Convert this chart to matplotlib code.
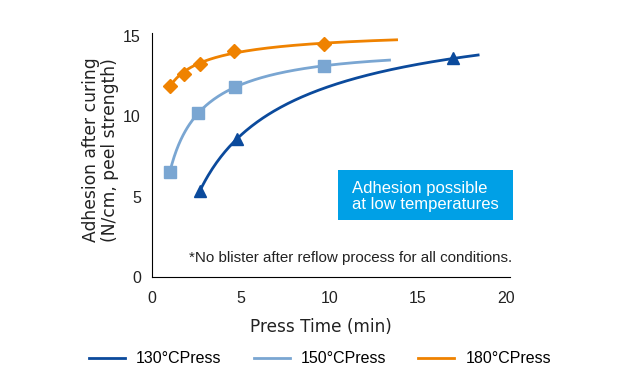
import numpy as np
import matplotlib.pyplot as plt
from matplotlib.patches import Rectangle

plt.rcParams['font.family'] = ['Liberation Sans', 'DejaVu Sans']

# press time (min) and peel strength (N/cm)
t130 = [2.7, 4.8, 17.0]
p130 = [5.35, 8.6, 13.6]
t150 = [1.0, 2.6, 4.7, 9.7]
p150 = [6.5, 10.2, 11.8, 13.15]
t180 = [1.0, 1.8, 2.7, 4.6, 9.7]
p180 = [11.9, 12.65, 13.27, 14.08, 14.5]
# where each trend line stops
tend = {"130": 18.4, "150": 13.4, "180": 13.8}

labels = ["130°CPress", "150°CPress", "180°CPress"]
colors = ["#0B4A9C", "#7AA6D2", "#EF8200"]
markers = ["^", "s", "D"]

fig = plt.figure(figsize=(6.4, 3.9), dpi=100)
ax = fig.add_axes([0.2375, 0.29, 0.5594, 0.626])

series = [(t130, p130, "130"), (t150, p150, "150"), (t180, p180, "180")]
for (t, p, key), lab, c, m in zip(series, labels, colors, markers):
    t = np.array(t)
    p = np.array(p)
    # log-quadratic trend line through the measured points
    coef = np.polyfit(np.log(t), p, 2)
    xs = np.linspace(t[0], tend[key], 200)
    ax.plot(xs, np.polyval(coef, np.log(xs)), color=c, lw=2, label=lab)
    ax.plot(t, p, m, color=c, ms=8 if m != "D" else 7.5, mec=c)

ax.set_xlim(0, 20.2)
ax.set_ylim(0, 15.2)
ax.set_xticks([0, 5, 10, 15, 20])
ax.set_yticks([0, 5, 10, 15])
ax.tick_params(length=0, labelsize=11.5, colors="#222222")
ax.tick_params(axis="x", pad=10)
ax.tick_params(axis="y", pad=8)
for s in ["top", "right"]:
    ax.spines[s].set_visible(False)
ax.set_xlabel("Press Time (min)", fontsize=12.2, labelpad=9, color="#222222",
              family="DejaVu Sans")
ax.set_ylabel("Adhesion after curing\n(N/cm, peel strength)", fontsize=12.3,
              labelpad=3, color="#222222", family="DejaVu Sans", linespacing=1.1)
ax.xaxis.label.set_x(0.473)
ax.yaxis.label.set_y(0.52)

ax.add_patch(Rectangle((0.52, 0.234), 0.488, 0.205, transform=ax.transAxes,
                       facecolor="#00A0E6", edgecolor="none", clip_on=False))
ax.text(0.559, 0.33, "Adhesion possible\nat low temperatures", transform=ax.transAxes,
        color="white", fontsize=12, ha="left", va="center", linespacing=1.1)
ax.text(1.006, 0.078, "*No blister after reflow process for all conditions.",
        transform=ax.transAxes, ha="right", va="center", fontsize=10.9, color="#222222")

handles = [l for l in ax.get_lines() if l.get_label() in labels]
fig.legend(handles, labels, loc="center", bbox_to_anchor=(0.5, 0.08), ncol=3,
           frameon=False, fontsize=11.5, handlelength=2.25, handletextpad=0.7,
           columnspacing=2.0)

fig.savefig("out.png", dpi=100)
